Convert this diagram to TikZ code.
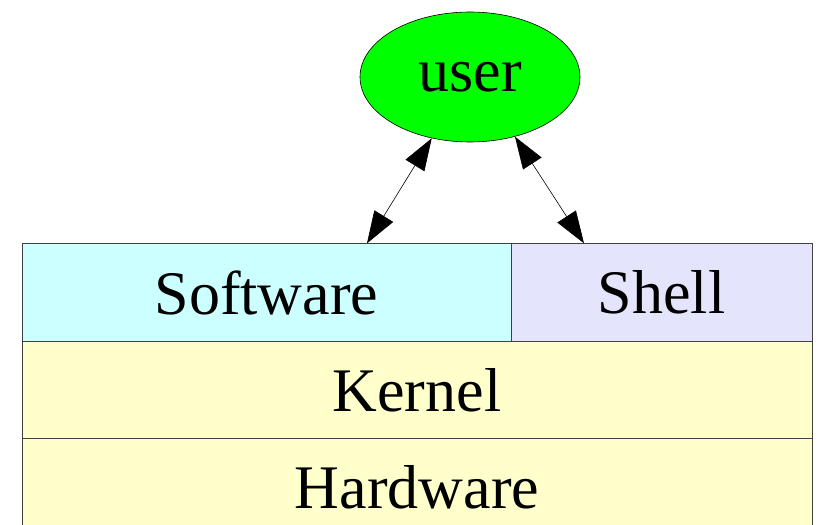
\documentclass[tikz,border=0pt]{standalone}
\usepackage{fontspec}
\setmainfont{Liberation Serif}
\usetikzlibrary{arrows.meta,shapes.geometric}
\definecolor{swcyan}{HTML}{CCFFFF}
\definecolor{shlav}{HTML}{E4E4FC}
\definecolor{kyellow}{HTML}{FFFFCC}
\begin{document}
\begin{tikzpicture}[x=1pt,y=1pt,>={Triangle[length=32pt,width=22pt]},
  layer/.style={draw=black!75, line width=0.8pt, rectangle, inner sep=0pt, minimum height=97.5pt, font=\fontsize{62}{62}\selectfont},
  link/.style={<->, line width=0.6pt}]
\useasboundingbox (0,0) rectangle (820,525);
\begin{scope}
\clip (0,0) rectangle (820,525);
\node[layer, fill=swcyan, minimum width=489pt] (sw) at (266.5,232.5) {Software};
\node[layer, fill=shlav, minimum width=301pt] (sh) at (661.5,232.5) {Shell};
\node[layer, fill=kyellow, minimum width=790pt] (k) at (417,135) {Kernel};
\node[layer, fill=kyellow, minimum width=790pt] (hw) at (417,37.5) {Hardware};
\end{scope}
\node[draw, ellipse, fill=green, line width=0.6pt, inner sep=0pt, minimum width=220pt, minimum height=130pt, font=\fontsize{62}{62}\selectfont] (user) at (470,448) {user};
\draw[link] (user.238) -- ([xshift=100.5pt]sw.north);
\draw[link] (user.307) -- ([xshift=-77.5pt]sh.north);
\end{tikzpicture}
\end{document}
